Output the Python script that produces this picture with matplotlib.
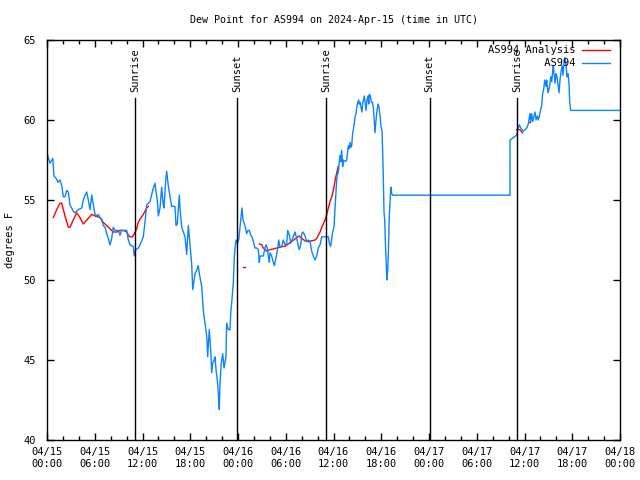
import matplotlib
matplotlib.use("Agg")
import matplotlib.pyplot as plt
import matplotlib.dates as mdates
import pandas as pd

plt.rcParams['font.family'] = ['DejaVu Sans Mono']
plt.rcParams['font.size'] = 7.5

base = pd.Timestamp("2024-04-15 00:00")

# station obs, hours since 04/15 00:00 UTC, dew point F
obs_hours = [0.0, 0.38, 0.72, 0.88, 1.22, 1.38, 1.63, 1.85, 2.05, 2.26, 2.48, 2.68, 2.89, 3.10,
             3.30, 3.52, 3.73, 3.93, 4.36, 4.56, 4.78, 4.99, 5.19, 5.40, 5.62, 5.82, 6.03, 6.25,
             6.45, 6.66, 6.87, 7.07, 7.29, 7.50, 7.70, 7.92, 8.13, 8.33, 8.54, 8.96, 9.17, 9.39,
             9.59, 10.02, 10.22, 10.43, 10.84, 10.97, 11.15, 11.47, 11.69, 12.10, 12.31, 12.53,
             12.94, 13.36, 13.57, 13.70, 13.86, 13.99, 14.20, 14.41, 14.58, 14.70, 14.92, 15.04,
             15.24, 15.46, 15.67, 16.08, 16.21, 16.37, 16.62, 16.71, 16.93, 17.34, 17.55, 17.76,
             17.97, 18.18, 18.31, 18.60, 18.81, 19.01, 19.14, 19.44, 19.64, 19.85, 20.07, 20.19,
             20.39, 20.57, 20.70, 20.82, 20.99, 21.11, 21.24, 21.40, 21.53, 21.65, 21.74, 21.90,
             22.08, 22.24, 22.49, 22.58, 22.78, 23.00, 23.08, 23.21, 23.41, 23.54, 23.75, 23.91,
             24.09, 24.25, 24.38, 24.50, 24.63, 24.75, 24.92, 25.09, 25.26, 25.42, 25.60, 25.76,
             25.93, 26.14, 26.35, 26.55, 26.68, 26.77, 26.98, 27.18, 27.39, 27.52, 27.68, 27.81,
             27.93, 28.02, 28.23, 28.44, 28.56, 28.74, 28.86, 28.99, 29.12, 29.24, 29.49, 29.69,
             29.91, 30.12, 30.25, 30.45, 30.62, 30.79, 30.95, 31.16, 31.38, 31.58, 31.70, 31.88,
             32.01, 32.13, 32.29, 32.46, 32.63, 32.84, 33.05, 33.26, 33.46, 33.68, 33.89, 34.09,
             34.31, 34.52, 35.15, 35.35, 35.48, 35.65, 35.78, 35.90, 36.06, 36.19, 36.32, 36.40,
             36.53, 36.60, 36.73, 36.82, 36.94, 37.03, 37.16, 37.23, 37.48, 37.66, 37.86, 37.99,
             38.08, 38.20, 38.29, 38.41, 38.49, 38.62, 38.70, 38.83, 38.92, 39.04, 39.17, 39.24,
             39.33, 39.46, 39.58, 39.67, 39.75, 39.87, 40.00, 40.09, 40.21, 40.34, 40.43, 40.50,
             40.63, 40.75, 40.88, 41.00, 41.13, 41.22, 41.34, 41.47, 41.59, 41.72, 41.84, 41.97,
             42.10, 42.22, 42.35, 42.44, 42.51, 42.64, 42.72, 42.81, 42.89, 43.01, 43.14, 43.23,
             43.31, 43.44, 58.17, 58.18, 58.60, 59.02, 59.15, 59.35, 59.53, 59.69, 59.85, 60.07,
             60.28, 60.48, 60.69, 60.78, 60.90, 61.03, 61.19, 61.32, 61.45, 61.61, 61.74, 61.86,
             62.04, 62.16, 62.29, 62.41, 62.54, 62.70, 62.79, 62.95, 63.12, 63.30, 63.42, 63.55,
             63.62, 63.71, 63.84, 63.96, 64.09, 64.21, 64.34, 64.46, 64.59, 64.72, 64.84, 64.97,
             65.09, 65.22, 65.34, 65.47, 65.59, 65.68, 65.81, 72.0]
obs_dewpt = [57.9, 57.3, 57.6, 56.5, 56.3, 56.1, 56.25, 55.9, 55.2, 55.2, 55.6, 55.5, 54.7, 54.5,
             54.3, 54.2, 54.3, 54.4, 54.5, 55.0, 55.3, 55.5, 55.0, 54.4, 55.3, 54.7, 54.1, 54.0,
             54.1, 53.9, 53.8, 53.4, 53.3, 52.9, 52.6, 52.2, 52.6, 53.3, 53.1, 53.1, 52.8, 53.1,
             53.1, 53.1, 52.5, 52.2, 52.1, 51.5, 51.9, 52.0, 52.2, 52.7, 53.6, 54.7,
             54.9, 55.75, 56.05, 55.5, 55.0, 54.0, 54.5, 55.8, 54.8, 54.5, 56.25, 56.8,
             55.9, 55.2, 54.6, 54.6, 53.4, 53.5, 55.3, 54.5, 53.3, 52.7, 51.6, 53.4,
             52.2, 51.0, 49.4, 50.4, 50.6, 50.9, 50.4, 49.6, 48.1, 47.3, 46.5, 45.2,
             46.9, 45.6, 44.2, 44.8, 45.0, 45.2, 44.4, 43.75, 42.9, 41.9, 43.6, 44.8,
             45.4, 44.5, 45.2, 47.3, 46.9, 46.9, 47.9, 48.6, 49.8, 51.5, 52.5, 52.3,
             52.5, 53.3, 53.96, 54.5, 53.75, 53.6, 53.3, 52.9, 53.1, 53.1, 52.8, 52.7,
             52.4, 52.0, 52.0, 51.9, 51.1, 51.5, 51.5, 51.5, 52.0, 52.2, 52.0, 51.5,
             51.1, 51.7, 51.5, 51.1, 50.9, 51.3, 51.6, 52.0, 52.5, 52.1, 52.1, 52.5,
             52.2, 52.3, 53.1, 52.8, 52.3, 52.5, 52.7, 53.0, 52.6, 52.1, 51.9, 52.2,
             52.9, 53.0, 52.9, 52.7, 52.4, 52.5, 52.4, 51.8, 51.5, 51.25, 51.5, 52.0,
             52.2, 52.7, 52.7, 52.7, 52.3, 52.1, 52.6, 53.0, 53.3, 54.4, 55.4, 56.25,
             56.8, 56.7, 57.4, 57.8, 57.4, 58.1, 57.1, 57.5, 57.4, 57.5, 58.4, 58.2,
             58.6, 58.3, 58.4, 59.2, 59.4, 59.8, 60.2, 60.4, 60.8, 61.1, 61.25, 61.0,
             61.1, 60.8, 60.5, 61.1, 61.2, 61.5, 61.0, 60.6, 61.25, 61.5, 61.0, 61.6,
             61.5, 61.1, 61.1, 60.8, 59.9, 59.2, 60.0, 60.6, 61.0, 60.8, 60.3, 59.6,
             59.3, 57.3, 54.2, 53.75, 52.5, 50.8, 50.0, 50.6, 51.7, 54.0, 55.2, 55.8,
             55.4, 55.3, 55.3, 58.75, 58.9, 59.06, 59.4, 59.7, 59.5, 59.4, 59.3, 59.4,
             59.5, 59.75, 60.4, 59.9, 60.4, 59.9, 60.25, 60.5, 60.0, 60.25, 60.0, 60.25,
             60.6, 60.9, 61.7, 61.9, 62.5, 62.1, 62.5, 61.7, 62.0, 62.7, 62.4, 63.1,
             63.4, 62.9, 62.3, 62.9, 62.7, 62.2, 61.7, 62.5, 63.0, 63.4, 62.8, 63.6,
             63.9, 63.4, 62.7, 62.9, 62.3, 61.1, 60.6, 60.6]

# analysis, broken into pieces where it has gaps
ana1_hours = [0.79, 1.22, 1.63, 1.85, 2.26, 2.68, 2.89, 3.30, 3.73, 4.15, 4.56, 4.99, 5.62, 6.03,
              6.66, 7.07, 7.50, 7.92, 8.33, 8.76, 9.17, 9.59, 10.02, 10.22, 10.43, 10.77, 10.97,
              11.27, 11.47, 11.69, 12.10, 12.31, 12.53, 12.73]
ana1_dewpt = [53.9, 54.4, 54.8, 54.8, 54.0, 53.3, 53.3, 53.75, 54.2, 53.9, 53.5, 53.75, 54.1, 54.0,
              53.9, 53.6, 53.4, 53.2, 53.0, 53.0, 53.1, 53.1, 53.0, 52.8, 52.7, 52.7, 52.9,
              53.2, 53.6, 53.8, 54.1, 54.3, 54.5, 54.6]
ana2_hours = [24.59, 24.88]
ana2_dewpt = [50.8, 50.8]
ana3_hours = [26.68, 26.98, 27.18, 27.39, 27.60, 28.02, 28.44, 28.86, 29.28, 29.69, 29.91, 31.67,
              32.01, 32.42, 32.84, 33.26, 33.68, 33.89, 34.09, 34.31, 34.52, 34.72, 34.94, 35.15,
              35.35, 35.56, 35.78, 35.99, 36.19, 36.40, 36.60]
ana3_dewpt = [52.25, 52.2, 52.0, 51.9, 51.8, 51.9, 51.94, 52.0, 52.05, 52.1, 52.1, 52.75,
              52.6, 52.45, 52.4, 52.45, 52.5, 52.6, 52.8, 53.0, 53.3, 53.5, 53.75, 54.1,
              54.5, 54.9, 55.2, 55.6, 56.2, 56.7, 57.1]
ana4_hours = [59.02, 59.40, 59.75]
ana4_dewpt = [59.4, 59.4, 59.2]
ana5_hours = [60.55, 60.72]
ana5_dewpt = [59.9, 59.9]

sun_times = ["2024-04-15 11:07", "2024-04-15 23:56", "2024-04-16 11:04",
             "2024-04-17 00:04", "2024-04-17 11:04"]
sun_names = ["Sunrise", "Sunset", "Sunrise", "Sunset", "Sunrise"]


def to_time(h):
    return base + pd.to_timedelta(h, unit="h")


fig = plt.figure(figsize=(6.4, 4.8), dpi=100)
ax = fig.add_axes([47 / 640, 40 / 480, 573 / 640, 400 / 480])

red = "#ff0000"
blue = "#0a84ff"

ax.plot(to_time(ana1_hours), ana1_dewpt, color=red, lw=1.0, label="AS994 Analysis")
for hh, vv in [(ana2_hours, ana2_dewpt), (ana3_hours, ana3_dewpt),
               (ana4_hours, ana4_dewpt), (ana5_hours, ana5_dewpt)]:
    ax.plot(to_time(hh), vv, color=red, lw=1.0)
ax.plot(to_time(obs_hours), obs_dewpt, color=blue, lw=1.0, label="         AS994")

for t, name in zip(sun_times, sun_names):
    ts = pd.Timestamp(t)
    ax.axvline(ts, ymin=0, ymax=0.855, color="black", lw=1.0)
    ax.text(ts, 0.87, name, transform=ax.get_xaxis_transform(), rotation=90,
            ha="center", va="bottom")

ax.set_xlim(base, base + pd.Timedelta(hours=72))
ax.set_ylim(40, 65)
ax.set_yticks([40, 45, 50, 55, 60, 65])

ax.xaxis.set_major_locator(mdates.HourLocator(byhour=[0, 6, 12, 18]))
ax.xaxis.set_minor_locator(mdates.HourLocator(interval=2))
ax.xaxis.set_major_formatter(mdates.DateFormatter("%m/%d\n%H:%M"))

ax.tick_params(which="both", direction="in", top=True, right=True, width=1.0)
ax.tick_params(which="major", length=5)
ax.tick_params(which="minor", length=3)
ax.tick_params(axis="y", pad=8)
ax.tick_params(axis="x", pad=5)
for sp in ax.spines.values():
    sp.set_linewidth(1.0)

ax.set_title("Dew Point for AS994 on 2024-Apr-15 (time in UTC)", fontsize=7.2, pad=12)
ax.set_ylabel("degrees F")
ax.yaxis.set_label_coords(-0.056, 0.5)

ax.legend(loc="upper right", bbox_to_anchor=(0.99, 0.997), frameon=False, markerfirst=False,
          handlelength=2.7, handletextpad=0.6, labelspacing=0.3, borderaxespad=0.2,
          borderpad=0.2)

fig.savefig("out.png", dpi=100)
